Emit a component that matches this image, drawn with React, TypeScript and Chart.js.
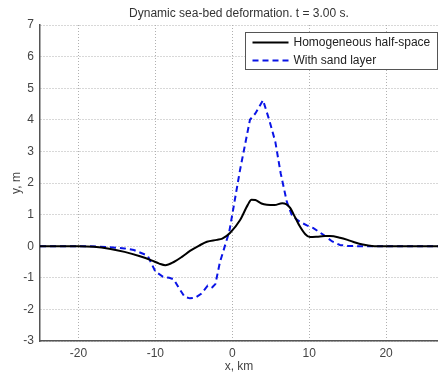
import { useEffect, useRef } from "react";
import { Chart, registerables } from "chart.js";

Chart.register(...registerables);

const chartTitle = "Dynamic sea-bed deformation. t = 3.00 s.";
const xAxisTitle = "x, km";
const yAxisTitle = "y, m";
const seriesNames = ["Homogeneous half-space", "With sand layer"];
const xTicks = [-20, -10, 0, 10, 20];
const yTicks = [-3, -2, -1, 0, 1, 2, 3, 4, 5, 6, 7];

const homX = [-25, -20, -18, -16, -14, -12, -10.5, -9.5, -8.7, -7.6, -6.5, -5.5, -4.3, -3.3, -2, -1.3, -0.3, 1, 2, 2.5, 3, 3.8, 4.5, 5.5, 6.5, 7, 7.5, 8.2, 8.8, 9.5, 10.1, 11, 12, 12.7, 14, 15, 15.7, 16.5, 17.5, 18.5, 27];
const homY = [0, 0, -0.02, -0.08, -0.18, -0.32, -0.45, -0.55, -0.6, -0.5, -0.33, -0.15, 0.02, 0.14, 0.2, 0.24, 0.42, 0.82, 1.3, 1.47, 1.46, 1.35, 1.31, 1.3, 1.36, 1.33, 1.22, 0.9, 0.62, 0.38, 0.29, 0.3, 0.32, 0.32, 0.27, 0.2, 0.14, 0.08, 0.03, 0, 0];

const sandX = [-25, -18.5, -16, -14, -12.8, -11, -10, -9, -8.2, -7.6, -7, -6.2, -5.5, -4.8, -4, -3.2, -2.6, -2.2, -1.6, -0.4, 0, 1, 2.3, 3, 4, 4.8, 5.6, 6.3, 7.1, 7.8, 8.8, 9.7, 10.5, 11.9, 13, 14, 15, 16, 27];
const sandY = [0, 0, -0.03, -0.07, -0.12, -0.3, -0.8, -0.97, -1.0, -1.05, -1.3, -1.6, -1.65, -1.63, -1.5, -1.25, -1.3, -1.2, -0.5, 0.45, 1.0, 2.4, 4.0, 4.2, 4.62, 4.0, 3.3, 2.3, 1.4, 0.95, 0.77, 0.66, 0.58, 0.35, 0.15, 0.04, 0.01, 0, 0];

const FONT = "Arial, 'Liberation Sans', sans-serif";

const titlePlugin = {
  id: "customTitle",
  afterDraw(chart: any) {
    const { ctx, chartArea } = chart;
    ctx.save();
    ctx.font = `12px ${FONT}`;
    ctx.fillStyle = "#333";
    ctx.textAlign = "center";
    ctx.textBaseline = "middle";
    ctx.fillText(chartTitle, (chartArea.left + chartArea.right) / 2, 14);
    ctx.restore();
  },
};

const legendPlugin = {
  id: "boxLegend",
  afterDraw(chart: any) {
    const { ctx } = chart;
    const x0 = 245.5, y0 = 32.5, w = 192, h = 37;
    ctx.save();
    ctx.fillStyle = "#fff";
    ctx.fillRect(x0, y0, w, h);
    ctx.strokeStyle = "#555";
    ctx.lineWidth = 1;
    ctx.strokeRect(x0, y0, w, h);
    chart.data.datasets.forEach((ds: any, i: number) => {
      const y = y0 + 10 + i * 18;
      ctx.beginPath();
      ctx.strokeStyle = ds.borderColor;
      ctx.lineWidth = ds.borderWidth;
      ctx.setLineDash(ds.borderDash || []);
      ctx.moveTo(x0 + 7, y);
      ctx.lineTo(x0 + 43, y);
      ctx.stroke();
      ctx.setLineDash([]);
      ctx.font = `12px ${FONT}`;
      ctx.fillStyle = "#222";
      ctx.textAlign = "left";
      ctx.textBaseline = "middle";
      ctx.fillText(ds.label, x0 + 48, y);
    });
    ctx.restore();
  },
};

export default function App() {
  const ref = useRef<HTMLCanvasElement>(null);
  useEffect(() => {
    if (!ref.current) return;
    const chart = new Chart(ref.current, {
      type: "scatter",
      data: {
        datasets: [
          {
            label: seriesNames[0],
            data: homX.map((x, i) => ({ x, y: homY[i] })),
            showLine: true,
            borderColor: "#000",
            borderWidth: 2,
            pointRadius: 0,
            cubicInterpolationMode: "monotone",
          },
          {
            label: seriesNames[1],
            data: sandX.map((x, i) => ({ x, y: sandY[i] })),
            showLine: true,
            borderColor: "#0a14e6",
            borderWidth: 2,
            borderDash: [6, 4],
            pointRadius: 0,
            tension: 0,
          },
        ],
      },
      options: {
        animation: false,
        responsive: false,
        maintainAspectRatio: false,
        layout: { padding: { top: 25, right: 0, left: 0, bottom: 0 } },
        plugins: { legend: { display: false }, title: { display: false }, tooltip: { enabled: false } },
        scales: {
          x: {
            type: "linear",
            min: -25,
            max: 26.75,
            afterFit: (s: any) => { s.height = 39; },
            afterBuildTicks: (s: any) => { s.ticks = xTicks.map((v) => ({ value: v })); },
            grid: { color: "#b0b0b0", lineWidth: 1, drawTicks: false } as any,
            border: { display: true, color: "#555", width: 1.5, dash: [1, 2] } as any,
            ticks: { font: { family: FONT, size: 12 }, color: "#444", padding: 5, maxRotation: 0 },
            title: { display: true, text: xAxisTitle, font: { family: FONT, size: 12 }, color: "#444", padding: { top: 0, bottom: 6 } },
          },
          y: {
            type: "linear",
            min: -3,
            max: 7,
            afterFit: (s: any) => { s.width = 40; },
            afterBuildTicks: (s: any) => { s.ticks = yTicks.map((v) => ({ value: v })); },
            grid: { color: "#b0b0b0", lineWidth: 1, drawTicks: false } as any,
            border: { display: true, color: "#555", width: 1.5, dash: [1, 2] } as any,
            ticks: { font: { family: FONT, size: 12 }, color: "#444", padding: 6 },
            title: { display: true, text: yAxisTitle, font: { family: FONT, size: 12 }, color: "#444", padding: { top: 9, bottom: 0 } },
          },
        },
      },
      plugins: [titlePlugin, legendPlugin],
    } as any);
    return () => chart.destroy();
  }, []);
  return (
    <div style={{ position: "absolute", left: 0, top: 0, width: 438, height: 380, background: "#fff" }}>
      <canvas ref={ref} width={438} height={380} style={{ display: "block" }} />
    </div>
  );
}
